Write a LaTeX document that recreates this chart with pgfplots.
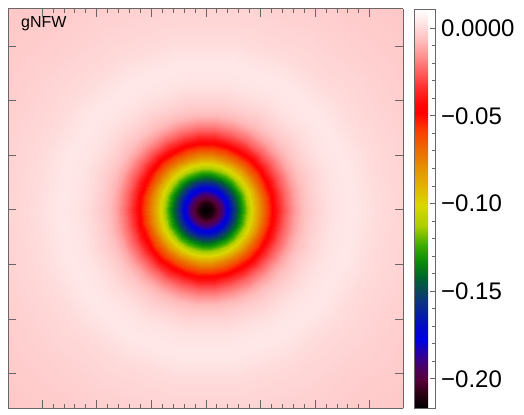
\documentclass[border=0pt]{standalone}
\usepackage{pgfplots}
\pgfplotsset{compat=1.18}
\usepackage{fontspec}
\setmainfont{Liberation Sans}
\definecolor{axgray}{rgb}{0.42,0.40,0.40}
\begin{document}
\begin{tikzpicture}
\begin{axis}[
  name=main,
  view={0}{90},
  scale only axis, width=395pt, height=399pt,
  xmin=-198, xmax=197, ymin=-198, ymax=201,
  enlargelimits=false,
  axis on top,
  xtick={-163.8,-109.2,-54.6,0,54.6,109.2,163.8},
  ytick={-163.8,-109.2,-54.6,0,54.6,109.2,163.8},
  ztick=\empty,
  minor x tick num=4,
  xtick pos=both, ytick pos=both,
  xticklabels={}, yticklabels={},
  major tick length=8pt, minor tick length=4pt,
  tick align=inside,
  axis line style={draw=axgray, line width=1pt},
  tick style={draw=axgray, line width=1pt},
  colormap={idl}{rgb255(0)=(0,0,0) rgb255(86)=(45,0,20) rgb255(156)=(85,0,55)
    rgb255(226)=(75,0,95) rgb255(296)=(50,0,150) rgb255(386)=(0,0,225)
    rgb255(466)=(0,10,200) rgb255(586)=(10,45,140) rgb255(666)=(10,70,90)
    rgb255(756)=(0,105,40) rgb255(836)=(10,140,10) rgb255(926)=(60,170,0)
    rgb255(1036)=(170,205,0) rgb255(1156)=(218,215,0) rgb255(1326)=(228,160,0)
    rgb255(1466)=(235,110,0) rgb255(1586)=(250,60,0) rgb255(1686)=(255,0,0)
    rgb255(1746)=(255,12,12) rgb255(1836)=(255,50,50) rgb255(1926)=(255,100,100)
    rgb255(2016)=(255,150,150) rgb255(2096)=(255,190,190) rgb255(2146)=(255,208,208)
    rgb255(2186)=(255,225,225) rgb255(2226)=(255,240,240) rgb255(2275)=(255,255,255)},
  point meta min=-0.2166, point meta max=0.0109,
  colorbar,
  colorbar shift/.style={},
  colorbar style={
    width=21pt,
    at={(parent axis.north east)}, anchor=north west, xshift=11pt,
    ytick={-0.2,-0.15,-0.1,-0.05,0},
    yticklabels={−0.20,−0.15,−0.10,−0.05,0.0000},
    minor y tick num=4,
    ytick pos=right, yticklabel pos=right,
    tick align=inside,
    major tick length=5pt, minor tick length=3pt,
    tick style={draw=axgray, line width=0.8pt},
    axis line style={draw=axgray, line width=0.8pt},
    yticklabel style={font=\fontsize{24}{24}\selectfont, inner sep=0pt, xshift=6pt},
  },
]
% outer part of the radial profile (r >= 100)
\addplot3[surf, shader=interp, data cs=polar, point meta=explicit]
  table[x=a, y=r, z=v, meta=v] {
a r v
0 100 -0.0055
20 100 -0.0055
40 100 -0.0055
60 100 -0.0055
80 100 -0.0055
100 100 -0.0055
120 100 -0.0055
140 100 -0.0055
160 100 -0.0055
180 100 -0.0055
200 100 -0.0055
220 100 -0.0055
240 100 -0.0055
260 100 -0.0055
280 100 -0.0055
300 100 -0.0055
320 100 -0.0055
340 100 -0.0055
360 100 -0.0055

0 110 -0.0015
20 110 -0.0015
40 110 -0.0015
60 110 -0.0015
80 110 -0.0015
100 110 -0.0015
120 110 -0.0015
140 110 -0.0015
160 110 -0.0015
180 110 -0.0015
200 110 -0.0015
220 110 -0.0015
240 110 -0.0015
260 110 -0.0015
280 110 -0.0015
300 110 -0.0015
320 110 -0.0015
340 110 -0.0015
360 110 -0.0015

0 120 0.0010
20 120 0.0010
40 120 0.0010
60 120 0.0010
80 120 0.0010
100 120 0.0010
120 120 0.0010
140 120 0.0010
160 120 0.0010
180 120 0.0010
200 120 0.0010
220 120 0.0010
240 120 0.0010
260 120 0.0010
280 120 0.0010
300 120 0.0010
320 120 0.0010
340 120 0.0010
360 120 0.0010

0 130 0.0027
20 130 0.0027
40 130 0.0027
60 130 0.0027
80 130 0.0027
100 130 0.0027
120 130 0.0027
140 130 0.0027
160 130 0.0027
180 130 0.0027
200 130 0.0027
220 130 0.0027
240 130 0.0027
260 130 0.0027
280 130 0.0027
300 130 0.0027
320 130 0.0027
340 130 0.0027
360 130 0.0027

0 140 0.0035
20 140 0.0035
40 140 0.0035
60 140 0.0035
80 140 0.0035
100 140 0.0035
120 140 0.0035
140 140 0.0035
160 140 0.0035
180 140 0.0035
200 140 0.0035
220 140 0.0035
240 140 0.0035
260 140 0.0035
280 140 0.0035
300 140 0.0035
320 140 0.0035
340 140 0.0035
360 140 0.0035

0 150 0.0035
20 150 0.0035
40 150 0.0035
60 150 0.0035
80 150 0.0035
100 150 0.0035
120 150 0.0035
140 150 0.0035
160 150 0.0035
180 150 0.0035
200 150 0.0035
220 150 0.0035
240 150 0.0035
260 150 0.0035
280 150 0.0035
300 150 0.0035
320 150 0.0035
340 150 0.0035
360 150 0.0035

0 160 0.0022
20 160 0.0022
40 160 0.0022
60 160 0.0022
80 160 0.0022
100 160 0.0022
120 160 0.0022
140 160 0.0022
160 160 0.0022
180 160 0.0022
200 160 0.0022
220 160 0.0022
240 160 0.0022
260 160 0.0022
280 160 0.0022
300 160 0.0022
320 160 0.0022
340 160 0.0022
360 160 0.0022

0 170 0.0010
20 170 0.0010
40 170 0.0010
60 170 0.0010
80 170 0.0010
100 170 0.0010
120 170 0.0010
140 170 0.0010
160 170 0.0010
180 170 0.0010
200 170 0.0010
220 170 0.0010
240 170 0.0010
260 170 0.0010
280 170 0.0010
300 170 0.0010
320 170 0.0010
340 170 0.0010
360 170 0.0010

0 185 -0.0002
20 185 -0.0002
40 185 -0.0002
60 185 -0.0002
80 185 -0.0002
100 185 -0.0002
120 185 -0.0002
140 185 -0.0002
160 185 -0.0002
180 185 -0.0002
200 185 -0.0002
220 185 -0.0002
240 185 -0.0002
260 185 -0.0002
280 185 -0.0002
300 185 -0.0002
320 185 -0.0002
340 185 -0.0002
360 185 -0.0002

0 200 -0.0010
20 200 -0.0010
40 200 -0.0010
60 200 -0.0010
80 200 -0.0010
100 200 -0.0010
120 200 -0.0010
140 200 -0.0010
160 200 -0.0010
180 200 -0.0010
200 200 -0.0010
220 200 -0.0010
240 200 -0.0010
260 200 -0.0010
280 200 -0.0010
300 200 -0.0010
320 200 -0.0010
340 200 -0.0010
360 200 -0.0010

0 220 -0.0020
20 220 -0.0020
40 220 -0.0020
60 220 -0.0020
80 220 -0.0020
100 220 -0.0020
120 220 -0.0020
140 220 -0.0020
160 220 -0.0020
180 220 -0.0020
200 220 -0.0020
220 220 -0.0020
240 220 -0.0020
260 220 -0.0020
280 220 -0.0020
300 220 -0.0020
320 220 -0.0020
340 220 -0.0020
360 220 -0.0020

0 240 -0.0030
20 240 -0.0030
40 240 -0.0030
60 240 -0.0030
80 240 -0.0030
100 240 -0.0030
120 240 -0.0030
140 240 -0.0030
160 240 -0.0030
180 240 -0.0030
200 240 -0.0030
220 240 -0.0030
240 240 -0.0030
260 240 -0.0030
280 240 -0.0030
300 240 -0.0030
320 240 -0.0030
340 240 -0.0030
360 240 -0.0030

0 265 -0.0038
20 265 -0.0038
40 265 -0.0038
60 265 -0.0038
80 265 -0.0038
100 265 -0.0038
120 265 -0.0038
140 265 -0.0038
160 265 -0.0038
180 265 -0.0038
200 265 -0.0038
220 265 -0.0038
240 265 -0.0038
260 265 -0.0038
280 265 -0.0038
300 265 -0.0038
320 265 -0.0038
340 265 -0.0038
360 265 -0.0038

0 290 -0.0045
20 290 -0.0045
40 290 -0.0045
60 290 -0.0045
80 290 -0.0045
100 290 -0.0045
120 290 -0.0045
140 290 -0.0045
160 290 -0.0045
180 290 -0.0045
200 290 -0.0045
220 290 -0.0045
240 290 -0.0045
260 290 -0.0045
280 290 -0.0045
300 290 -0.0045
320 290 -0.0045
340 290 -0.0045
360 290 -0.0045
};
% inner part of the radial profile (r <= 100), finer in angle
\addplot3[surf, shader=interp, data cs=polar, point meta=explicit]
  table[x=a, y=r, z=v, meta=v] {
a r v
0 0 -0.2166
12 0 -0.2166
24 0 -0.2166
36 0 -0.2166
48 0 -0.2166
60 0 -0.2166
72 0 -0.2166
84 0 -0.2166
96 0 -0.2166
108 0 -0.2166
120 0 -0.2166
132 0 -0.2166
144 0 -0.2166
156 0 -0.2166
168 0 -0.2166
180 0 -0.2166
192 0 -0.2166
204 0 -0.2166
216 0 -0.2166
228 0 -0.2166
240 0 -0.2166
252 0 -0.2166
264 0 -0.2166
276 0 -0.2166
288 0 -0.2166
300 0 -0.2166
312 0 -0.2166
324 0 -0.2166
336 0 -0.2166
348 0 -0.2166
360 0 -0.2166

0 4 -0.2145
12 4 -0.2145
24 4 -0.2145
36 4 -0.2145
48 4 -0.2145
60 4 -0.2145
72 4 -0.2145
84 4 -0.2145
96 4 -0.2145
108 4 -0.2145
120 4 -0.2145
132 4 -0.2145
144 4 -0.2145
156 4 -0.2145
168 4 -0.2145
180 4 -0.2145
192 4 -0.2145
204 4 -0.2145
216 4 -0.2145
228 4 -0.2145
240 4 -0.2145
252 4 -0.2145
264 4 -0.2145
276 4 -0.2145
288 4 -0.2145
300 4 -0.2145
312 4 -0.2145
324 4 -0.2145
336 4 -0.2145
348 4 -0.2145
360 4 -0.2145

0 8 -0.2085
12 8 -0.2085
24 8 -0.2085
36 8 -0.2085
48 8 -0.2085
60 8 -0.2085
72 8 -0.2085
84 8 -0.2085
96 8 -0.2085
108 8 -0.2085
120 8 -0.2085
132 8 -0.2085
144 8 -0.2085
156 8 -0.2085
168 8 -0.2085
180 8 -0.2085
192 8 -0.2085
204 8 -0.2085
216 8 -0.2085
228 8 -0.2085
240 8 -0.2085
252 8 -0.2085
264 8 -0.2085
276 8 -0.2085
288 8 -0.2085
300 8 -0.2085
312 8 -0.2085
324 8 -0.2085
336 8 -0.2085
348 8 -0.2085
360 8 -0.2085

0 12 -0.2000
12 12 -0.2000
24 12 -0.2000
36 12 -0.2000
48 12 -0.2000
60 12 -0.2000
72 12 -0.2000
84 12 -0.2000
96 12 -0.2000
108 12 -0.2000
120 12 -0.2000
132 12 -0.2000
144 12 -0.2000
156 12 -0.2000
168 12 -0.2000
180 12 -0.2000
192 12 -0.2000
204 12 -0.2000
216 12 -0.2000
228 12 -0.2000
240 12 -0.2000
252 12 -0.2000
264 12 -0.2000
276 12 -0.2000
288 12 -0.2000
300 12 -0.2000
312 12 -0.2000
324 12 -0.2000
336 12 -0.2000
348 12 -0.2000
360 12 -0.2000

0 16 -0.1905
12 16 -0.1905
24 16 -0.1905
36 16 -0.1905
48 16 -0.1905
60 16 -0.1905
72 16 -0.1905
84 16 -0.1905
96 16 -0.1905
108 16 -0.1905
120 16 -0.1905
132 16 -0.1905
144 16 -0.1905
156 16 -0.1905
168 16 -0.1905
180 16 -0.1905
192 16 -0.1905
204 16 -0.1905
216 16 -0.1905
228 16 -0.1905
240 16 -0.1905
252 16 -0.1905
264 16 -0.1905
276 16 -0.1905
288 16 -0.1905
300 16 -0.1905
312 16 -0.1905
324 16 -0.1905
336 16 -0.1905
348 16 -0.1905
360 16 -0.1905

0 20 -0.1800
12 20 -0.1800
24 20 -0.1800
36 20 -0.1800
48 20 -0.1800
60 20 -0.1800
72 20 -0.1800
84 20 -0.1800
96 20 -0.1800
108 20 -0.1800
120 20 -0.1800
132 20 -0.1800
144 20 -0.1800
156 20 -0.1800
168 20 -0.1800
180 20 -0.1800
192 20 -0.1800
204 20 -0.1800
216 20 -0.1800
228 20 -0.1800
240 20 -0.1800
252 20 -0.1800
264 20 -0.1800
276 20 -0.1800
288 20 -0.1800
300 20 -0.1800
312 20 -0.1800
324 20 -0.1800
336 20 -0.1800
348 20 -0.1800
360 20 -0.1800

0 24 -0.1680
12 24 -0.1680
24 24 -0.1680
36 24 -0.1680
48 24 -0.1680
60 24 -0.1680
72 24 -0.1680
84 24 -0.1680
96 24 -0.1680
108 24 -0.1680
120 24 -0.1680
132 24 -0.1680
144 24 -0.1680
156 24 -0.1680
168 24 -0.1680
180 24 -0.1680
192 24 -0.1680
204 24 -0.1680
216 24 -0.1680
228 24 -0.1680
240 24 -0.1680
252 24 -0.1680
264 24 -0.1680
276 24 -0.1680
288 24 -0.1680
300 24 -0.1680
312 24 -0.1680
324 24 -0.1680
336 24 -0.1680
348 24 -0.1680
360 24 -0.1680

0 28 -0.1555
12 28 -0.1555
24 28 -0.1555
36 28 -0.1555
48 28 -0.1555
60 28 -0.1555
72 28 -0.1555
84 28 -0.1555
96 28 -0.1555
108 28 -0.1555
120 28 -0.1555
132 28 -0.1555
144 28 -0.1555
156 28 -0.1555
168 28 -0.1555
180 28 -0.1555
192 28 -0.1555
204 28 -0.1555
216 28 -0.1555
228 28 -0.1555
240 28 -0.1555
252 28 -0.1555
264 28 -0.1555
276 28 -0.1555
288 28 -0.1555
300 28 -0.1555
312 28 -0.1555
324 28 -0.1555
336 28 -0.1555
348 28 -0.1555
360 28 -0.1555

0 32 -0.1430
12 32 -0.1430
24 32 -0.1430
36 32 -0.1430
48 32 -0.1430
60 32 -0.1430
72 32 -0.1430
84 32 -0.1430
96 32 -0.1430
108 32 -0.1430
120 32 -0.1430
132 32 -0.1430
144 32 -0.1430
156 32 -0.1430
168 32 -0.1430
180 32 -0.1430
192 32 -0.1430
204 32 -0.1430
216 32 -0.1430
228 32 -0.1430
240 32 -0.1430
252 32 -0.1430
264 32 -0.1430
276 32 -0.1430
288 32 -0.1430
300 32 -0.1430
312 32 -0.1430
324 32 -0.1430
336 32 -0.1430
348 32 -0.1430
360 32 -0.1430

0 36 -0.1305
12 36 -0.1305
24 36 -0.1305
36 36 -0.1305
48 36 -0.1305
60 36 -0.1305
72 36 -0.1305
84 36 -0.1305
96 36 -0.1305
108 36 -0.1305
120 36 -0.1305
132 36 -0.1305
144 36 -0.1305
156 36 -0.1305
168 36 -0.1305
180 36 -0.1305
192 36 -0.1305
204 36 -0.1305
216 36 -0.1305
228 36 -0.1305
240 36 -0.1305
252 36 -0.1305
264 36 -0.1305
276 36 -0.1305
288 36 -0.1305
300 36 -0.1305
312 36 -0.1305
324 36 -0.1305
336 36 -0.1305
348 36 -0.1305
360 36 -0.1305

0 40 -0.1180
12 40 -0.1180
24 40 -0.1180
36 40 -0.1180
48 40 -0.1180
60 40 -0.1180
72 40 -0.1180
84 40 -0.1180
96 40 -0.1180
108 40 -0.1180
120 40 -0.1180
132 40 -0.1180
144 40 -0.1180
156 40 -0.1180
168 40 -0.1180
180 40 -0.1180
192 40 -0.1180
204 40 -0.1180
216 40 -0.1180
228 40 -0.1180
240 40 -0.1180
252 40 -0.1180
264 40 -0.1180
276 40 -0.1180
288 40 -0.1180
300 40 -0.1180
312 40 -0.1180
324 40 -0.1180
336 40 -0.1180
348 40 -0.1180
360 40 -0.1180

0 44 -0.1060
12 44 -0.1060
24 44 -0.1060
36 44 -0.1060
48 44 -0.1060
60 44 -0.1060
72 44 -0.1060
84 44 -0.1060
96 44 -0.1060
108 44 -0.1060
120 44 -0.1060
132 44 -0.1060
144 44 -0.1060
156 44 -0.1060
168 44 -0.1060
180 44 -0.1060
192 44 -0.1060
204 44 -0.1060
216 44 -0.1060
228 44 -0.1060
240 44 -0.1060
252 44 -0.1060
264 44 -0.1060
276 44 -0.1060
288 44 -0.1060
300 44 -0.1060
312 44 -0.1060
324 44 -0.1060
336 44 -0.1060
348 44 -0.1060
360 44 -0.1060

0 48 -0.0940
12 48 -0.0940
24 48 -0.0940
36 48 -0.0940
48 48 -0.0940
60 48 -0.0940
72 48 -0.0940
84 48 -0.0940
96 48 -0.0940
108 48 -0.0940
120 48 -0.0940
132 48 -0.0940
144 48 -0.0940
156 48 -0.0940
168 48 -0.0940
180 48 -0.0940
192 48 -0.0940
204 48 -0.0940
216 48 -0.0940
228 48 -0.0940
240 48 -0.0940
252 48 -0.0940
264 48 -0.0940
276 48 -0.0940
288 48 -0.0940
300 48 -0.0940
312 48 -0.0940
324 48 -0.0940
336 48 -0.0940
348 48 -0.0940
360 48 -0.0940

0 52 -0.0830
12 52 -0.0830
24 52 -0.0830
36 52 -0.0830
48 52 -0.0830
60 52 -0.0830
72 52 -0.0830
84 52 -0.0830
96 52 -0.0830
108 52 -0.0830
120 52 -0.0830
132 52 -0.0830
144 52 -0.0830
156 52 -0.0830
168 52 -0.0830
180 52 -0.0830
192 52 -0.0830
204 52 -0.0830
216 52 -0.0830
228 52 -0.0830
240 52 -0.0830
252 52 -0.0830
264 52 -0.0830
276 52 -0.0830
288 52 -0.0830
300 52 -0.0830
312 52 -0.0830
324 52 -0.0830
336 52 -0.0830
348 52 -0.0830
360 52 -0.0830

0 56 -0.0725
12 56 -0.0725
24 56 -0.0725
36 56 -0.0725
48 56 -0.0725
60 56 -0.0725
72 56 -0.0725
84 56 -0.0725
96 56 -0.0725
108 56 -0.0725
120 56 -0.0725
132 56 -0.0725
144 56 -0.0725
156 56 -0.0725
168 56 -0.0725
180 56 -0.0725
192 56 -0.0725
204 56 -0.0725
216 56 -0.0725
228 56 -0.0725
240 56 -0.0725
252 56 -0.0725
264 56 -0.0725
276 56 -0.0725
288 56 -0.0725
300 56 -0.0725
312 56 -0.0725
324 56 -0.0725
336 56 -0.0725
348 56 -0.0725
360 56 -0.0725

0 60 -0.0625
12 60 -0.0625
24 60 -0.0625
36 60 -0.0625
48 60 -0.0625
60 60 -0.0625
72 60 -0.0625
84 60 -0.0625
96 60 -0.0625
108 60 -0.0625
120 60 -0.0625
132 60 -0.0625
144 60 -0.0625
156 60 -0.0625
168 60 -0.0625
180 60 -0.0625
192 60 -0.0625
204 60 -0.0625
216 60 -0.0625
228 60 -0.0625
240 60 -0.0625
252 60 -0.0625
264 60 -0.0625
276 60 -0.0625
288 60 -0.0625
300 60 -0.0625
312 60 -0.0625
324 60 -0.0625
336 60 -0.0625
348 60 -0.0625
360 60 -0.0625

0 64 -0.0530
12 64 -0.0530
24 64 -0.0530
36 64 -0.0530
48 64 -0.0530
60 64 -0.0530
72 64 -0.0530
84 64 -0.0530
96 64 -0.0530
108 64 -0.0530
120 64 -0.0530
132 64 -0.0530
144 64 -0.0530
156 64 -0.0530
168 64 -0.0530
180 64 -0.0530
192 64 -0.0530
204 64 -0.0530
216 64 -0.0530
228 64 -0.0530
240 64 -0.0530
252 64 -0.0530
264 64 -0.0530
276 64 -0.0530
288 64 -0.0530
300 64 -0.0530
312 64 -0.0530
324 64 -0.0530
336 64 -0.0530
348 64 -0.0530
360 64 -0.0530

0 68 -0.0445
12 68 -0.0445
24 68 -0.0445
36 68 -0.0445
48 68 -0.0445
60 68 -0.0445
72 68 -0.0445
84 68 -0.0445
96 68 -0.0445
108 68 -0.0445
120 68 -0.0445
132 68 -0.0445
144 68 -0.0445
156 68 -0.0445
168 68 -0.0445
180 68 -0.0445
192 68 -0.0445
204 68 -0.0445
216 68 -0.0445
228 68 -0.0445
240 68 -0.0445
252 68 -0.0445
264 68 -0.0445
276 68 -0.0445
288 68 -0.0445
300 68 -0.0445
312 68 -0.0445
324 68 -0.0445
336 68 -0.0445
348 68 -0.0445
360 68 -0.0445

0 72 -0.0370
12 72 -0.0370
24 72 -0.0370
36 72 -0.0370
48 72 -0.0370
60 72 -0.0370
72 72 -0.0370
84 72 -0.0370
96 72 -0.0370
108 72 -0.0370
120 72 -0.0370
132 72 -0.0370
144 72 -0.0370
156 72 -0.0370
168 72 -0.0370
180 72 -0.0370
192 72 -0.0370
204 72 -0.0370
216 72 -0.0370
228 72 -0.0370
240 72 -0.0370
252 72 -0.0370
264 72 -0.0370
276 72 -0.0370
288 72 -0.0370
300 72 -0.0370
312 72 -0.0370
324 72 -0.0370
336 72 -0.0370
348 72 -0.0370
360 72 -0.0370

0 76 -0.0300
12 76 -0.0300
24 76 -0.0300
36 76 -0.0300
48 76 -0.0300
60 76 -0.0300
72 76 -0.0300
84 76 -0.0300
96 76 -0.0300
108 76 -0.0300
120 76 -0.0300
132 76 -0.0300
144 76 -0.0300
156 76 -0.0300
168 76 -0.0300
180 76 -0.0300
192 76 -0.0300
204 76 -0.0300
216 76 -0.0300
228 76 -0.0300
240 76 -0.0300
252 76 -0.0300
264 76 -0.0300
276 76 -0.0300
288 76 -0.0300
300 76 -0.0300
312 76 -0.0300
324 76 -0.0300
336 76 -0.0300
348 76 -0.0300
360 76 -0.0300

0 80 -0.0240
12 80 -0.0240
24 80 -0.0240
36 80 -0.0240
48 80 -0.0240
60 80 -0.0240
72 80 -0.0240
84 80 -0.0240
96 80 -0.0240
108 80 -0.0240
120 80 -0.0240
132 80 -0.0240
144 80 -0.0240
156 80 -0.0240
168 80 -0.0240
180 80 -0.0240
192 80 -0.0240
204 80 -0.0240
216 80 -0.0240
228 80 -0.0240
240 80 -0.0240
252 80 -0.0240
264 80 -0.0240
276 80 -0.0240
288 80 -0.0240
300 80 -0.0240
312 80 -0.0240
324 80 -0.0240
336 80 -0.0240
348 80 -0.0240
360 80 -0.0240

0 85 -0.0180
12 85 -0.0180
24 85 -0.0180
36 85 -0.0180
48 85 -0.0180
60 85 -0.0180
72 85 -0.0180
84 85 -0.0180
96 85 -0.0180
108 85 -0.0180
120 85 -0.0180
132 85 -0.0180
144 85 -0.0180
156 85 -0.0180
168 85 -0.0180
180 85 -0.0180
192 85 -0.0180
204 85 -0.0180
216 85 -0.0180
228 85 -0.0180
240 85 -0.0180
252 85 -0.0180
264 85 -0.0180
276 85 -0.0180
288 85 -0.0180
300 85 -0.0180
312 85 -0.0180
324 85 -0.0180
336 85 -0.0180
348 85 -0.0180
360 85 -0.0180

0 90 -0.0125
12 90 -0.0125
24 90 -0.0125
36 90 -0.0125
48 90 -0.0125
60 90 -0.0125
72 90 -0.0125
84 90 -0.0125
96 90 -0.0125
108 90 -0.0125
120 90 -0.0125
132 90 -0.0125
144 90 -0.0125
156 90 -0.0125
168 90 -0.0125
180 90 -0.0125
192 90 -0.0125
204 90 -0.0125
216 90 -0.0125
228 90 -0.0125
240 90 -0.0125
252 90 -0.0125
264 90 -0.0125
276 90 -0.0125
288 90 -0.0125
300 90 -0.0125
312 90 -0.0125
324 90 -0.0125
336 90 -0.0125
348 90 -0.0125
360 90 -0.0125

0 95 -0.0085
12 95 -0.0085
24 95 -0.0085
36 95 -0.0085
48 95 -0.0085
60 95 -0.0085
72 95 -0.0085
84 95 -0.0085
96 95 -0.0085
108 95 -0.0085
120 95 -0.0085
132 95 -0.0085
144 95 -0.0085
156 95 -0.0085
168 95 -0.0085
180 95 -0.0085
192 95 -0.0085
204 95 -0.0085
216 95 -0.0085
228 95 -0.0085
240 95 -0.0085
252 95 -0.0085
264 95 -0.0085
276 95 -0.0085
288 95 -0.0085
300 95 -0.0085
312 95 -0.0085
324 95 -0.0085
336 95 -0.0085
348 95 -0.0085
360 95 -0.0085

0 100 -0.0055
12 100 -0.0055
24 100 -0.0055
36 100 -0.0055
48 100 -0.0055
60 100 -0.0055
72 100 -0.0055
84 100 -0.0055
96 100 -0.0055
108 100 -0.0055
120 100 -0.0055
132 100 -0.0055
144 100 -0.0055
156 100 -0.0055
168 100 -0.0055
180 100 -0.0055
192 100 -0.0055
204 100 -0.0055
216 100 -0.0055
228 100 -0.0055
240 100 -0.0055
252 100 -0.0055
264 100 -0.0055
276 100 -0.0055
288 100 -0.0055
300 100 -0.0055
312 100 -0.0055
324 100 -0.0055
336 100 -0.0055
348 100 -0.0055
360 100 -0.0055
};
\node[anchor=base west, inner sep=0pt, font=\fontsize{16}{16}\selectfont] at (axis cs:-185,182,0) {gNFW};
\end{axis}
\path (main.south west) ++(-8pt,-6pt) rectangle ++(524pt,414pt);
\end{tikzpicture}
\end{document}
